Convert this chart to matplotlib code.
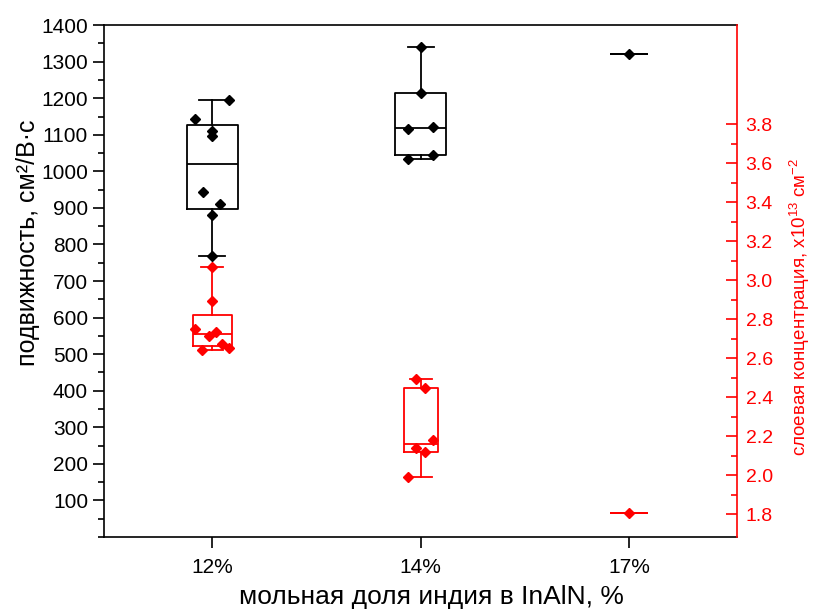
import numpy as np
import matplotlib
matplotlib.use("Agg")
import matplotlib.pyplot as plt
from matplotlib.ticker import FixedLocator, MultipleLocator, FormatStrFormatter

plt.rcParams['font.family'] = ['Liberation Sans', 'DejaVu Sans']
plt.rcParams['mathtext.fontset'] = 'custom'
plt.rcParams['mathtext.rm'] = 'Liberation Sans'
plt.rcParams['mathtext.it'] = 'Liberation Sans:italic'

# Indium mole fraction groups
categories = ['12%', '14%', '17%']

# Hall mobility, cm^2/(V*s)
mobility_12 = [1196, 1142, 1110, 1098, 943, 911, 882, 768]
mobility_14 = [1339, 1215, 1115, 1121, 1035, 1044]
mobility_17 = [1322]

# Sheet carrier concentration, x10^13 cm^-2
conc_12 = [3.066, 2.892, 2.750, 2.711, 2.735, 2.673, 2.653, 2.641]
conc_14 = [2.492, 2.448, 2.179, 2.137, 2.119, 1.988]
conc_17 = [1.806]

# Horizontal scatter of the individual points inside each box
mob_jitter = [[0.078, -0.085, 0.0, 0.0, -0.043, 0.037, 0.0, 0.0],
              [0.0, 0.0, -0.06, 0.06, -0.06, 0.06],
              [0.0]]
conc_jitter = [[0.0, 0.0, -0.082, -0.016, 0.016, 0.047, 0.078, -0.05],
               [-0.02, 0.02, 0.06, -0.02, 0.02, -0.06],
               [0.0]]


def tukey_stats(values):
    v = np.sort(np.asarray(values, dtype=float))
    n = len(v)
    lower = v[:(n + 1) // 2]
    upper = v[n // 2:]
    return dict(med=np.median(v), q1=np.median(lower), q3=np.median(upper),
                whislo=v.min(), whishi=v.max(), fliers=[], mean=v.mean())


positions = np.arange(1, len(categories) + 1)
mobility = [mobility_12, mobility_14, mobility_17]
concentration = [conc_12, conc_14, conc_17]

fig = plt.figure(figsize=(8.16, 6.12), dpi=100)
ax = fig.add_axes([0.1275, 0.1225, 0.776, 0.8365])
ax2 = ax.twinx()

lw = 1.3
black_props = dict(color='black', linewidth=lw)
ax.bxp([tukey_stats(v) for v in mobility], positions=positions,
       widths=[0.245, 0.245, 0.173], capwidths=[0.125, 0.125, 0.173],
       showfliers=False, boxprops=black_props, whiskerprops=black_props,
       capprops=black_props, medianprops=black_props, manage_ticks=False)
for p, vals, jit in zip(positions, mobility, mob_jitter):
    ax.plot(p + np.asarray(jit), vals, 'D', color='black', ms=5, ls='none', zorder=5)

red_props = dict(color='red', linewidth=lw)
ax2.bxp([tukey_stats(v) for v in concentration], positions=positions,
        widths=[0.19, 0.163, 0.173], capwidths=[0.106, 0.106, 0.173],
        showfliers=False, boxprops=red_props, whiskerprops=red_props,
        capprops=red_props, medianprops=red_props, manage_ticks=False)
for p, vals, jit in zip(positions, concentration, conc_jitter):
    ax2.plot(p + np.asarray(jit), vals, 'D', color='red', ms=5, ls='none', zorder=5)

# x axis
ax.set_xlim(0.48, 3.52)
ax.set_xticks(positions)
ax.set_xticklabels(categories)
ax.set_xlabel('мольная доля индия в InAlN, %', fontsize=19)
ax.xaxis.set_label_coords(0.517, -0.093)

# left axis: mobility
ax.set_ylim(0, 1400)
ax.yaxis.set_major_locator(FixedLocator(np.arange(100, 1401, 100)))
ax.yaxis.set_minor_locator(MultipleLocator(50))
ax.set_ylabel('подвижность, см²/В·с', fontsize=18)
ax.yaxis.set_label_coords(-0.101, 0.574)
ax.tick_params(axis='both', which='major', direction='out', length=8, width=1.2,
               labelsize=15)
ax.tick_params(axis='y', which='minor', direction='out', length=4, width=1.2)
ax.tick_params(axis='x', which='major', pad=7)
ax.spines['right'].set_visible(False)
for s in ('left', 'bottom', 'top'):
    ax.spines[s].set_linewidth(1.2)

# right axis: concentration
ax2.set_ylim(1.682, 4.308)
ax2.yaxis.set_major_locator(FixedLocator(np.round(np.arange(1.8, 3.81, 0.2), 1)))
ax2.yaxis.set_minor_locator(FixedLocator(np.round(np.arange(1.8, 3.81, 0.1), 1)))
ax2.yaxis.set_major_formatter(FormatStrFormatter('%.1f'))
ax2.tick_params(axis='y', which='major', direction='in', length=8, width=1.2,
                colors='red', labelsize=14, pad=6)
ax2.tick_params(axis='y', which='minor', direction='in', length=4, width=1.2,
                colors='red')
ax2.spines['right'].set_color('red')
ax2.spines['right'].set_linewidth(1.2)
for s in ('left', 'bottom', 'top'):
    ax2.spines[s].set_visible(False)
ax2.set_ylabel('слоевая концентрация, x10$^{13}$ см$^{-2}$', color='red',
               fontsize=13.5)
ax2.yaxis.set_label_coords(1.08, 0.449)

fig.savefig('out.png', dpi=100)
